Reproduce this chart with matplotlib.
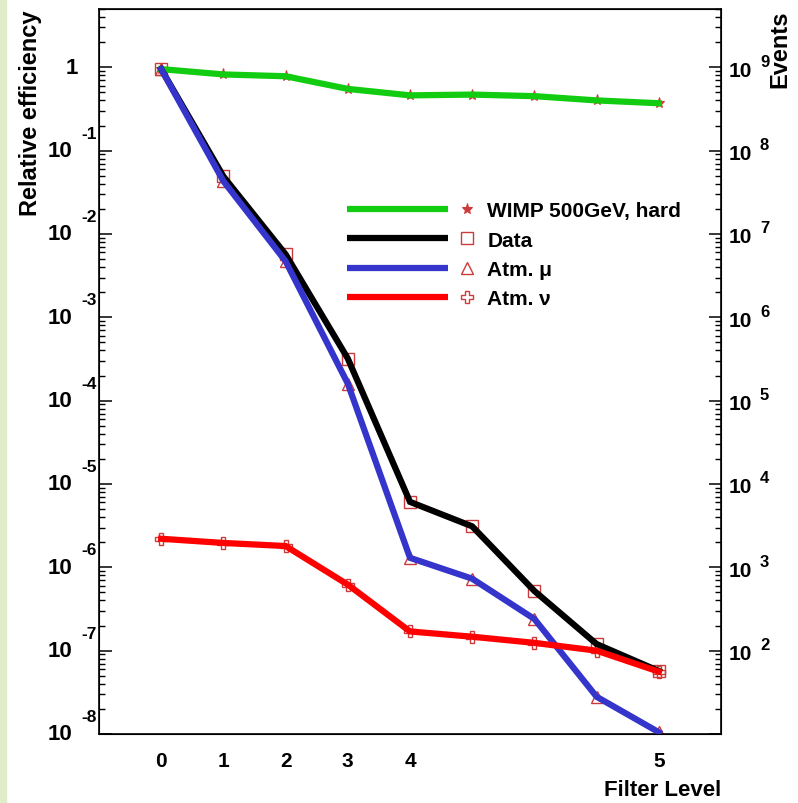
import numpy as np
import matplotlib.pyplot as plt
from matplotlib.lines import Line2D
from matplotlib.patches import Rectangle
from matplotlib.legend_handler import HandlerBase
from matplotlib.ticker import LogLocator, NullFormatter

plt.rcParams['font.family'] = ['Liberation Sans', 'DejaVu Sans']
plt.rcParams['font.weight'] = 'bold'
plt.rcParams['axes.labelweight'] = 'bold'

# filter steps (9 points, labelled 0..4 and 5 at the end)
levels = np.arange(9)
level_ticks = [0, 1, 2, 3, 4, 8]
level_labels = ['0', '1', '2', '3', '4', '5']

wimp = [0.95, 0.82, 0.78, 0.55, 0.46, 0.47, 0.45, 0.40, 0.37]
data = [0.95, 0.049, 5.7e-3, 3.2e-4, 6.1e-6, 3.1e-6, 5.2e-7, 1.2e-7, 5.7e-8]
atm_mu = [0.95, 0.043, 4.7e-3, 1.6e-4, 1.3e-6, 7.3e-7, 2.4e-7, 2.8e-8, 1.05e-8]
atm_nu = [2.2e-6, 1.96e-6, 1.8e-6, 6.2e-7, 1.7e-7, 1.47e-7, 1.24e-7, 1.0e-7, 5.6e-8]

series = [
    ('WIMP 500GeV, hard', wimp, '#11cc11', '*'),
    ('Data', data, 'black', 's'),
    ('Atm. \u03bc', atm_mu, '#3535cc', '^'),
    ('Atm. \u03bd', atm_nu, '#ff0000', 'P'),
]
mk_col = '#cc3b3b'


class LineMarkerHandler(HandlerBase):
    def create_artists(self, legend, orig_handle, xdescent, ydescent,
                       width, height, fontsize, trans):
        ln, mk = orig_handle
        y = height / 2 - ydescent
        a = Line2D([-xdescent, -xdescent + 0.78 * width], [y, y],
                   color=ln.get_color(), lw=ln.get_linewidth(),
                   solid_capstyle='butt')
        b = Line2D([-xdescent + 0.93 * width], [y], linestyle='none',
                   marker=mk.get_marker(), ms=mk.get_markersize(),
                   mfc=mk.get_markerfacecolor(), mec=mk.get_markeredgecolor(),
                   mew=mk.get_markeredgewidth())
        a.set_transform(trans)
        b.set_transform(trans)
        return [a, b]


fig = plt.figure(figsize=(7.98, 8.04), dpi=100)
fig.add_artist(Rectangle((0, 0), 6 / 798, 1, transform=fig.transFigure,
                         color='#e1eccb', zorder=0))
ax = fig.add_axes([99 / 798, 69 / 804, 622 / 798, 725 / 804])
ax.set_yscale('log')

handles = []
for name, vals, col, m in series:
    if m == '*':
        mk, = ax.plot(levels, vals, linestyle='none', marker=m, ms=8,
                      mfc=mk_col, mec=mk_col, mew=0.8, zorder=2)
    else:
        mk, = ax.plot(levels, vals, linestyle='none', marker=m, ms=8,
                      mfc='none', mec=mk_col, mew=1.0, zorder=2)
    ln, = ax.plot(levels, vals, color=col, lw=4.5, zorder=3,
                  solid_joinstyle='miter')
    handles.append((ln, mk))

ax.set_xlim(-1, 9)
ax.set_ylim(1e-8, 5)
for s in ax.spines.values():
    s.set_linewidth(1.2)

ax.set_xticks(level_ticks, level_labels)
ax.tick_params(axis='x', length=0, pad=12, labelsize=15)
ax.yaxis.set_major_locator(LogLocator(base=10, numticks=20))
ax.yaxis.set_minor_locator(LogLocator(base=10, subs=np.arange(2, 10), numticks=20))
ax.yaxis.set_minor_formatter(NullFormatter())
ax.tick_params(axis='y', which='both', direction='in', labelleft=False)
ax.tick_params(axis='y', which='major', length=9, width=1.1)
ax.tick_params(axis='y', which='minor', length=4.5, width=1.0)

ax2 = ax.twinx()
ax2.set_yscale('log')
ax2.set_ylim(10, 5e9)
ax2.yaxis.set_major_locator(LogLocator(base=10, numticks=20))
ax2.yaxis.set_minor_locator(LogLocator(base=10, subs=np.arange(2, 10), numticks=20))
ax2.yaxis.set_minor_formatter(NullFormatter())
ax2.tick_params(axis='y', which='both', direction='in', labelright=False)
ax2.tick_params(axis='y', which='major', length=9, width=1.1)
ax2.tick_params(axis='y', which='minor', length=4.5, width=1.0)

# ROOT style log labels
lab = ('axes fraction', 'data')
for e in range(-8, 1):
    if e == 0:
        ax.annotate('1', (0, 1.0), xycoords=lab, xytext=(-15, 0),
                    textcoords='offset points', ha='right', va='center', fontsize=16)
        continue
    ax.annotate('10', (0, 10.0 ** e), xycoords=lab, xytext=(-19.5, 0),
                textcoords='offset points', ha='right', va='center', fontsize=16)
    ax.annotate(str(e), (0, 10.0 ** e), xycoords=lab, xytext=(-12.5, 12.5),
                textcoords='offset points', ha='left', va='center', fontsize=12.5)
for e in range(2, 10):
    ax2.annotate('10', (1, 10.0 ** e), xycoords=lab, xytext=(5.5, -2),
                 textcoords='offset points', ha='left', va='center', fontsize=15)
    ax2.annotate(str(e), (1, 10.0 ** e), xycoords=lab, xytext=(28, 4.5),
                 textcoords='offset points', ha='left', va='center', fontsize=12)

ax.set_ylabel('Relative efficiency', loc='top', fontsize=17)
ax.yaxis.set_label_coords(-0.0916, 1.0)
ax2.set_ylabel('Events', loc='top', fontsize=17)
ax2.yaxis.set_label_coords(1.0756, 1.0)
ax.set_xlabel('Filter Level', loc='right', fontsize=16)
ax.xaxis.set_label_coords(1.0, -0.062)

ax.legend(handles, [s[0] for s in series],
          handler_map={tuple: LineMarkerHandler()},
          loc='upper left', bbox_to_anchor=(0.399, 0.735), frameon=False,
          fontsize=15, handlelength=6.2, handletextpad=0.53,
          labelspacing=0.5, borderpad=0, borderaxespad=0)

fig.savefig('out.png', dpi=100)
